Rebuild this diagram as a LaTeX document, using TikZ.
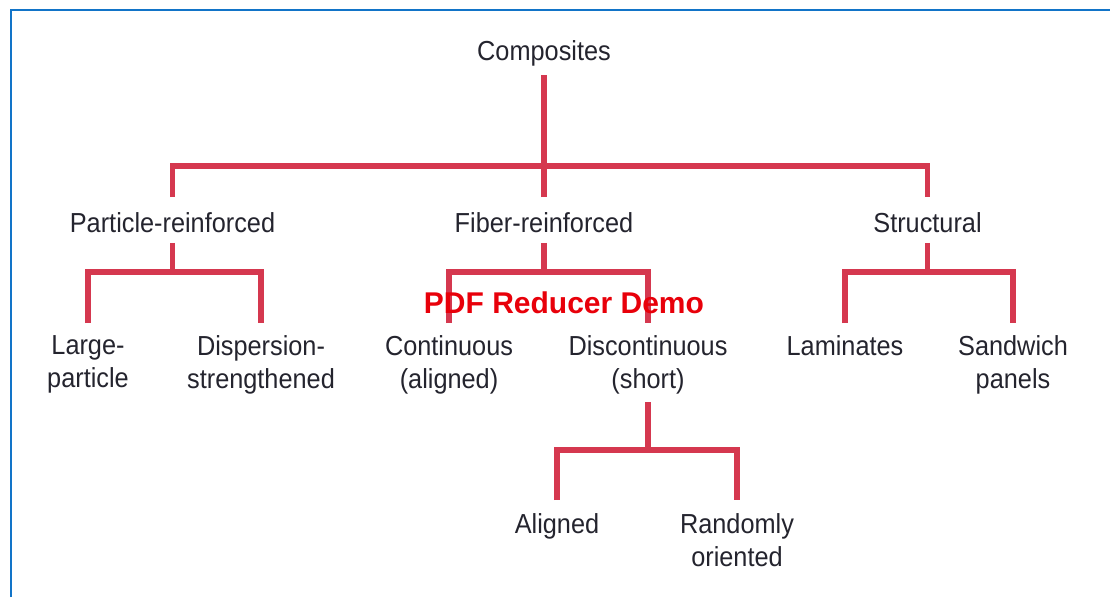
\documentclass[tikz,border=0pt]{standalone}
\usepackage{fontspec}
\setmainfont{Liberation Sans}[FakeStretch=0.92]
\newfontfamily\wmfont{Liberation Sans}
\definecolor{linkred}{RGB}{213,56,79}
\definecolor{txt}{RGB}{36,36,46}
\definecolor{framebl}{RGB}{18,116,200}
\definecolor{wmred}{RGB}{232,0,10}
\begin{document}
\begin{tikzpicture}[x=1pt,y=-1pt,
  lbl/.style={anchor=north,inner sep=0pt,align=center,text=txt,
    font=\fontsize{27.5}{33}\selectfont},
  link/.style={draw=linkred,line width=5.5pt,line join=miter,line cap=butt},
  frameline/.style={draw=framebl,line width=2.5pt}]
\useasboundingbox (0,0) rectangle (1110,597);
\draw[frameline] (11,597) -- (11,10) -- (1110,10);

% nodes (north = baseline - 19.8)
\node[lbl] (comp)   at (544,40.2)   {Composites};
\node[lbl] (part)   at (172.5,212.2) {Particle-reinforced};
\node[lbl] (fiber)  at (544,212.2)  {Fiber-reinforced};
\node[lbl] (struct) at (927.5,212.2) {Structural};
\node[lbl] (large)  at (88,335.2)   {Large-\\particle};
\node[lbl] (disp)   at (261,335.2)  {Dispersion-\\strengthened};
\node[lbl] (cont)   at (449,335.2)  {Continuous\\(aligned)};
\node[lbl] (disc)   at (648,335.2)  {Discontinuous\\(short)};
\node[lbl] (lam)    at (845,335.2)  {Laminates};
\node[lbl] (sand)   at (1013,335.2) {Sandwich\\panels};
\node[lbl] (alig)   at (557,513.2)  {Aligned};
\node[lbl] (rand)   at (737,513.2)  {Randomly\\oriented};

% Composites
\draw[link] ([yshift=-9pt]comp.south) -- (comp.south |- 0,166);
\draw[link] ([yshift=15pt]part.north) -- (part.north |- 0,166)
  -- (struct.north |- 0,166) -- ([yshift=15pt]struct.north);
\draw[link] ([yshift=15pt]fiber.north) -- (fiber.north |- 0,166);

% Particle-reinforced
\draw[link] ([yshift=-10pt]part.south) -- (part.south |- 0,272);
\draw[link] ([yshift=12pt]large.north) -- (large.north |- 0,272)
  -- (disp.north |- 0,272) -- ([yshift=12pt]disp.north);

% Fiber-reinforced
\draw[link] ([yshift=-10pt]fiber.south) -- (fiber.south |- 0,272);
\draw[link] ([yshift=12pt]cont.north) -- (cont.north |- 0,272)
  -- (disc.north |- 0,272) -- ([yshift=12pt]disc.north);

% Structural
\draw[link] ([yshift=-10pt]struct.south) -- (struct.south |- 0,272);
\draw[link] ([yshift=12pt]lam.north) -- (lam.north |- 0,272)
  -- (sand.north |- 0,272) -- ([yshift=12pt]sand.north);

% Discontinuous
\draw[link] ([yshift=-8pt]disc.south) -- (disc.south |- 0,450);
\draw[link] ([yshift=13pt]alig.north) -- (alig.north |- 0,450)
  -- (rand.north |- 0,450) -- ([yshift=13pt]rand.north);

% watermark
\node[anchor=base,inner sep=0pt,text=wmred,font=\wmfont\bfseries\fontsize{30}{36}\selectfont]
  (wm) at (564,313) {PDF Reducer Demo};
\end{tikzpicture}
\end{document}
